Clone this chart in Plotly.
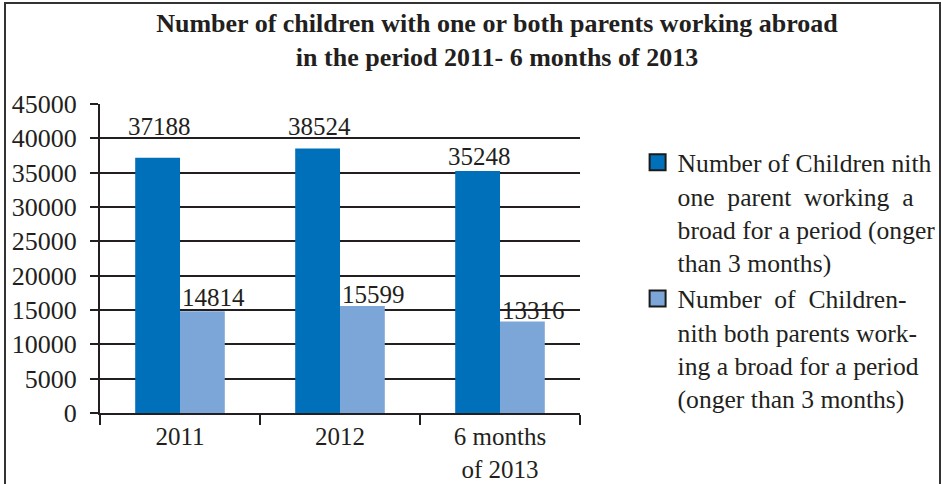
import plotly.graph_objects as go

categories = ["2011", "2012", "6 months<br>of 2013"]
one_parent = [37188, 38524, 35248]
both_parents = [14814, 15599, 13316]
series_names = [
    "Number of Children nith<br>one  parent  working  a<br>broad for a period (onger<br>than 3 months)",
    "Number  of  Children-<br>nith both parents work-<br>ing a broad for a period<br>(onger than 3 months)",
]
title_text = "<b>Number of children with one or both parents working abroad<br>in the period 2011- 6 months of 2013</b>"

DARK = "#0070BA"
LIGHT = "#7CA6D7"
FONT = "Liberation Serif"

# pixel lifts of value labels above bar tops (layout only)
dark_lift = [31, 22, 14]
light_lift = [14, 11, 11]

fig = go.Figure()
fig.add_trace(go.Bar(x=categories, y=one_parent, marker=dict(color=DARK, line=dict(width=0)),
                     name=series_names[0], showlegend=False))
fig.add_trace(go.Bar(x=categories, y=both_parents, marker=dict(color=LIGHT, line=dict(width=0)),
                     name=series_names[1], showlegend=False))
# legend entries (on a hidden auxiliary axis pair)
for name, col in zip(series_names, [DARK, LIGHT]):
    fig.add_trace(go.Scatter(x=[None], y=[None], mode="markers", name=name,
                             xaxis="x2", yaxis="y2", hoverinfo="skip",
                             marker=dict(symbol="square", size=20, color=col,
                                         line=dict(color="#1a1a1a", width=2))))

# value labels: category axes take the category index for annotations
for i, c in enumerate(categories):
    fig.add_annotation(x=i, y=one_parent[i], text=str(one_parent[i]), showarrow=False,
                       xshift=-21, yshift=dark_lift[i], yanchor="middle",
                       font=dict(family=FONT, size=25, color="#231f20"))
    fig.add_annotation(x=i, y=both_parents[i], text=str(both_parents[i]), showarrow=False,
                       xshift=33, yshift=light_lift[i], yanchor="middle",
                       font=dict(family=FONT, size=25, color="#231f20"))

# outer frame
fig.add_shape(type="rect", xref="paper", yref="paper",
              x0=(5 - 100) / 480, x1=(940 - 100) / 480,
              y0=(413 - 495) / 309, y1=(413 - 3) / 309,
              line=dict(color="#333", width=2), fillcolor="rgba(0,0,0,0)", layer="below")

fig.update_layout(
    width=941, height=484,
    margin=dict(l=100, r=361, t=104, b=71, autoexpand=False),
    paper_bgcolor="white", plot_bgcolor="white",
    barmode="group", bargap=0.44, bargroupgap=0,
    font=dict(family=FONT, color="#231f20"),
    title=dict(text=title_text, x=497 / 941, xanchor="center", y=1 - 32 / 484, yanchor="middle",
               font=dict(family=FONT, size=26, color="#231f20")),
    legend=dict(x=1.12, xanchor="left", y=0.886, yanchor="top", valign="top",
                font=dict(family=FONT, size=25.6, color="#231f20"),
                itemsizing="trace", tracegroupgap=8, bgcolor="rgba(0,0,0,0)"),
    xaxis=dict(type="category", showline=True, linecolor="#231f20", linewidth=2,
               ticks="outside", tickson="boundaries", ticklen=10, tickwidth=2, tickcolor="#231f20",
               tickfont=dict(family=FONT, size=25, color="#231f20"), showgrid=False),
    yaxis=dict(range=[0, 45000], dtick=5000, tickformat="d", showline=True,
               linecolor="#231f20", linewidth=2,
               ticks="outside", ticklen=8, tickwidth=2, tickcolor="#231f20",
               ticklabelstandoff=8,
               showgrid=True, gridcolor="#231f20", gridwidth=2, zeroline=False,
               tickfont=dict(family=FONT, size=26, color="#231f20")),
    xaxis2=dict(visible=False, domain=[0, 0.01], anchor="y2"),
    yaxis2=dict(visible=False, domain=[0, 0.01], anchor="x2"),
)

fig.write_html("out.html", config={"displayModeBar": False},
               post_script="document.body.style.margin='0';document.body.style.overflow='hidden';")
